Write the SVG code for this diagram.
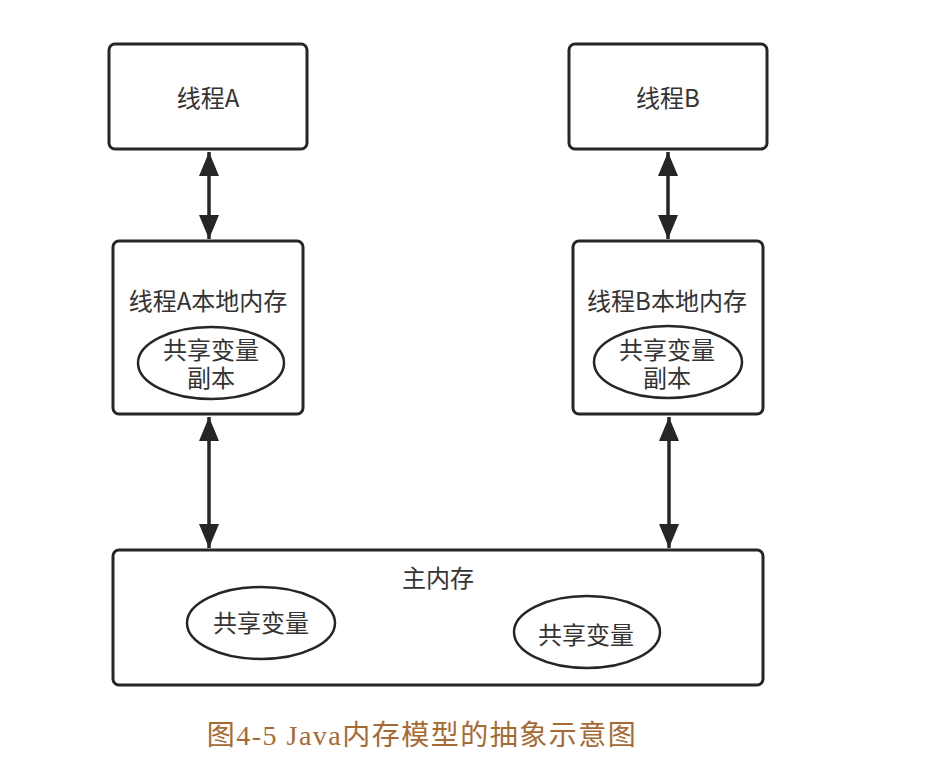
<svg xmlns="http://www.w3.org/2000/svg" width="928" height="774" viewBox="0 0 928 774">
  <style>
    .box { fill: #ffffff; stroke: #262626; stroke-width: 3; }
    .oval { fill: #ffffff; stroke: #262626; stroke-width: 2.5; }
    .lbl { font-family: "Noto Sans CJK SC", "Liberation Sans", sans-serif; font-size: 24px; fill: #333333; text-anchor: middle; }
    .lbl2 { font-family: "Liberation Sans", "Noto Sans CJK SC", sans-serif; font-size: 24px; fill: #333333; text-anchor: middle; }
    .link { stroke: #262626; stroke-width: 3.5; fill: none; marker-start: url(#head); marker-end: url(#head); }
    .caption { font-family: "Liberation Serif", "Noto Sans CJK SC", serif; font-size: 28px; letter-spacing: 1.5px; fill: #a66a34; text-anchor: middle; }
  </style>
  <defs>
    <marker id="head" markerUnits="userSpaceOnUse" markerWidth="26" markerHeight="20" refX="24" refY="10" orient="auto-start-reverse">
      <path d="M0,0 L24,10 L0,20 Z" fill="#262626"/>
    </marker>
  </defs>
  <rect width="928" height="774" fill="#ffffff"/>

  <!-- threads -->
  <g id="thread-a">
    <rect class="box" x="109" y="44" width="198" height="105" rx="6"/>
    <text class="lbl" x="208" y="107">线程A</text>
  </g>
  <g id="thread-b">
    <rect class="box" x="569" y="44" width="198" height="105" rx="6"/>
    <text class="lbl" x="668" y="107">线程B</text>
  </g>

  <!-- local working memory of each thread -->
  <g id="local-a">
    <rect class="box" x="113" y="241" width="190" height="173" rx="6"/>
    <text class="lbl" x="208" y="310">线程A本地内存</text>
    <ellipse class="oval" cx="211" cy="363" rx="73" ry="36"/>
    <text class="lbl2"><tspan x="211" y="359">共享变量</tspan><tspan x="211" y="387">副本</tspan></text>
  </g>
  <g id="local-b">
    <rect class="box" x="573" y="241" width="190" height="173" rx="6"/>
    <text class="lbl" x="667" y="310">线程B本地内存</text>
    <ellipse class="oval" cx="668" cy="362" rx="74" ry="36"/>
    <text class="lbl2"><tspan x="667" y="359">共享变量</tspan><tspan x="667" y="387">副本</tspan></text>
  </g>

  <!-- main memory -->
  <g id="main-memory">
    <rect class="box" x="113" y="550" width="650" height="135" rx="6"/>
    <text class="lbl" x="438" y="587">主内存</text>
    <ellipse class="oval" cx="261" cy="623" rx="74" ry="36"/>
    <text class="lbl" x="261" y="632">共享变量</text>
    <ellipse class="oval" cx="587" cy="632" rx="73" ry="36"/>
    <text class="lbl" x="586" y="644">共享变量</text>
  </g>

  <!-- two-way connectors -->
  <g id="connectors">
    <line class="link" x1="209" y1="152" x2="209" y2="239"/>
    <line class="link" x1="668" y1="152" x2="668" y2="239"/>
    <line class="link" x1="209" y1="417" x2="209" y2="548"/>
    <line class="link" x1="669" y1="417" x2="669" y2="548"/>
  </g>

  <text class="caption" x="422" y="745">图4-5 Java内存模型的抽象示意图</text>
</svg>
